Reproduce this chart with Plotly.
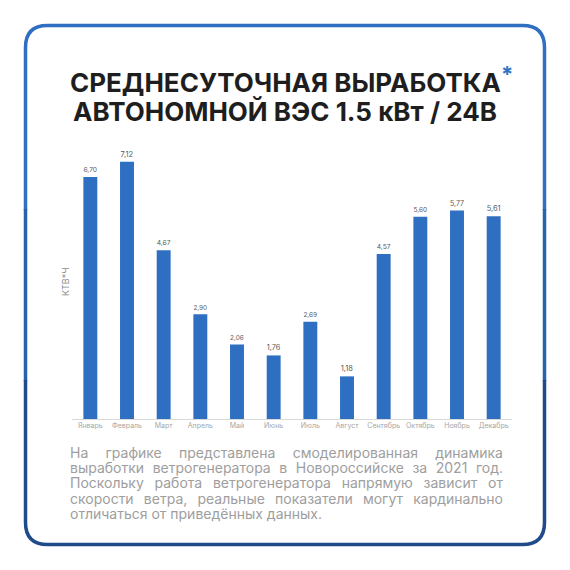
import plotly.graph_objects as go

# данные: среднесуточная выработка, кВт*ч
months = ['Январь', 'Февраль', 'Март', 'Апрель', 'Май', 'Июнь',
          'Июль', 'Август', 'Сентябрь', 'Октябрь', 'Ноябрь', 'Декабрь']
output_kwh = [6.70, 7.12, 4.67, 2.90, 2.06, 1.76, 2.69, 1.18, 4.57, 5.60, 5.77, 5.61]

title_1 = 'СРЕДНЕСУТОЧНАЯ ВЫРАБОТКА'
title_2 = 'АВТОНОМНОЙ ВЭС 1.5 кВт / 24В'
y_label = 'КТВ*Ч'
note_lines = [
    'На графике представлена смоделированная динамика',
    'выработки ветрогенератора в Новороссийске за 2021 год.',
    'Поскольку работа ветрогенератора напрямую зависит от',
    'скорости ветра, реальные показатели могут кардинально',
    'отличаться от приведённых данных.',
]

W = H = 570
BLUE = '#2F6FC2'


def px(x):
    return x / W


def py(y):
    return 1 - y / H


fig = go.Figure(go.Bar(
    x=months, y=output_kwh,
    marker=dict(color=BLUE, line=dict(width=0)),
    texttemplate='%{y:.2f}', textposition='outside',
    textfont=dict(size=7.5, color='#595959', family='Inter'),
    cliponaxis=False, hoverinfo='skip',
))

# рамка с переходом цвета сверху вниз
L, R, T, B, r = 25.5, 544.5, 25.5, 544.5, 22


def pt(x, y):
    return f'{px(x):.5f},{py(y):.5f}'


top_path = (f'M{pt(L, 210)} L{pt(L, T + r)} Q{pt(L, T)} {pt(L + r, T)} '
            f'L{pt(R - r, T)} Q{pt(R, T)} {pt(R, T + r)} L{pt(R, 210)}')
bot_path = (f'M{pt(L, 380)} L{pt(L, B - r)} Q{pt(L, B)} {pt(L + r, B)} '
            f'L{pt(R - r, B)} Q{pt(R, B)} {pt(R, B - r)} L{pt(R, 380)}')
shapes = [
    dict(type='path', xref='paper', yref='paper', path=top_path,
         line=dict(color='#2F6EC0', width=3.5)),
    dict(type='line', xref='paper', yref='paper', x0=px(L), x1=px(L), y0=py(209), y1=py(381),
         line=dict(color='#2862AD', width=3.5)),
    dict(type='line', xref='paper', yref='paper', x0=px(R), x1=px(R), y0=py(209), y1=py(381),
         line=dict(color='#2862AD', width=3.5)),
    dict(type='path', xref='paper', yref='paper', path=bot_path,
         line=dict(color='#1F4B8B', width=3.5)),
]

TITLE_FONT = dict(size=26, color='#1E1E1E', family='Inter', weight='bold')
ann = [
    dict(text=title_1, x=px(285), y=py(82), xref='paper', yref='paper', showarrow=False,
         xanchor='center', yanchor='middle', font=TITLE_FONT),
    dict(text='*', x=px(499), y=py(74), xref='paper', yref='paper', showarrow=False,
         xanchor='left', yanchor='middle',
         font=dict(size=22, color='#2F72C8', family='Inter', weight='bold')),
    dict(text=title_2, x=px(285), y=py(112), xref='paper', yref='paper', showarrow=False,
         xanchor='center', yanchor='middle', font=TITLE_FONT),
    dict(text=y_label, x=px(65), y=py(282), xref='paper', yref='paper', showarrow=False,
         textangle=-90, xanchor='center', yanchor='middle',
         font=dict(size=9, color='#8C8C8C', family='Inter')),
]

# примечание: по строке на аннотацию, ширину добираем word-spacing'ом в браузере
note_font = dict(size=14, color='#9E9E9E', family='Inter')
x_left, x_right = 70, 503
justify_idx = []
for i, line in enumerate(note_lines):
    if i < len(note_lines) - 1:
        justify_idx.append(len(ann))
    ann.append(dict(text=line, x=px(x_left - 2), y=py(452 + 15.4 * i), xref='paper', yref='paper',
                    showarrow=False, xanchor='left', yanchor='middle', align='left', font=note_font))

fig.update_layout(
    width=W, height=H,
    margin=dict(l=0, r=0, t=0, b=0),
    paper_bgcolor='white', plot_bgcolor='white',
    separators=', ',
    bargap=0.62,
    showlegend=False,
    shapes=shapes,
    annotations=ann,
    xaxis=dict(domain=[px(72), px(512)], showline=True, linecolor='#D9D9D9', linewidth=1,
               ticks='', showgrid=False, zeroline=False, fixedrange=True,
               tickfont=dict(size=7, color='#A6A6A6', family='Inter')),
    yaxis=dict(domain=[py(419), py(130)], range=[0, 8], visible=False, fixedrange=True),
)

js = """
document.body.style.margin = '0';
var gd = document.getElementById('{plot_id}');
var target = %d;
%s.forEach(function(k) {
  var t = gd.querySelector('g.annotation[data-index="' + k + '"] text.annotation-text');
  if (!t) return;
  var n = (t.textContent.match(/ /g) || []).length;
  var extra = (target - t.getComputedTextLength()) / n;
  t.setAttribute('word-spacing', extra.toFixed(2) + 'px');
});
""" % (x_right - x_left, str(justify_idx))

fig.write_html('out.html', config={'displayModeBar': False}, post_script=js)
